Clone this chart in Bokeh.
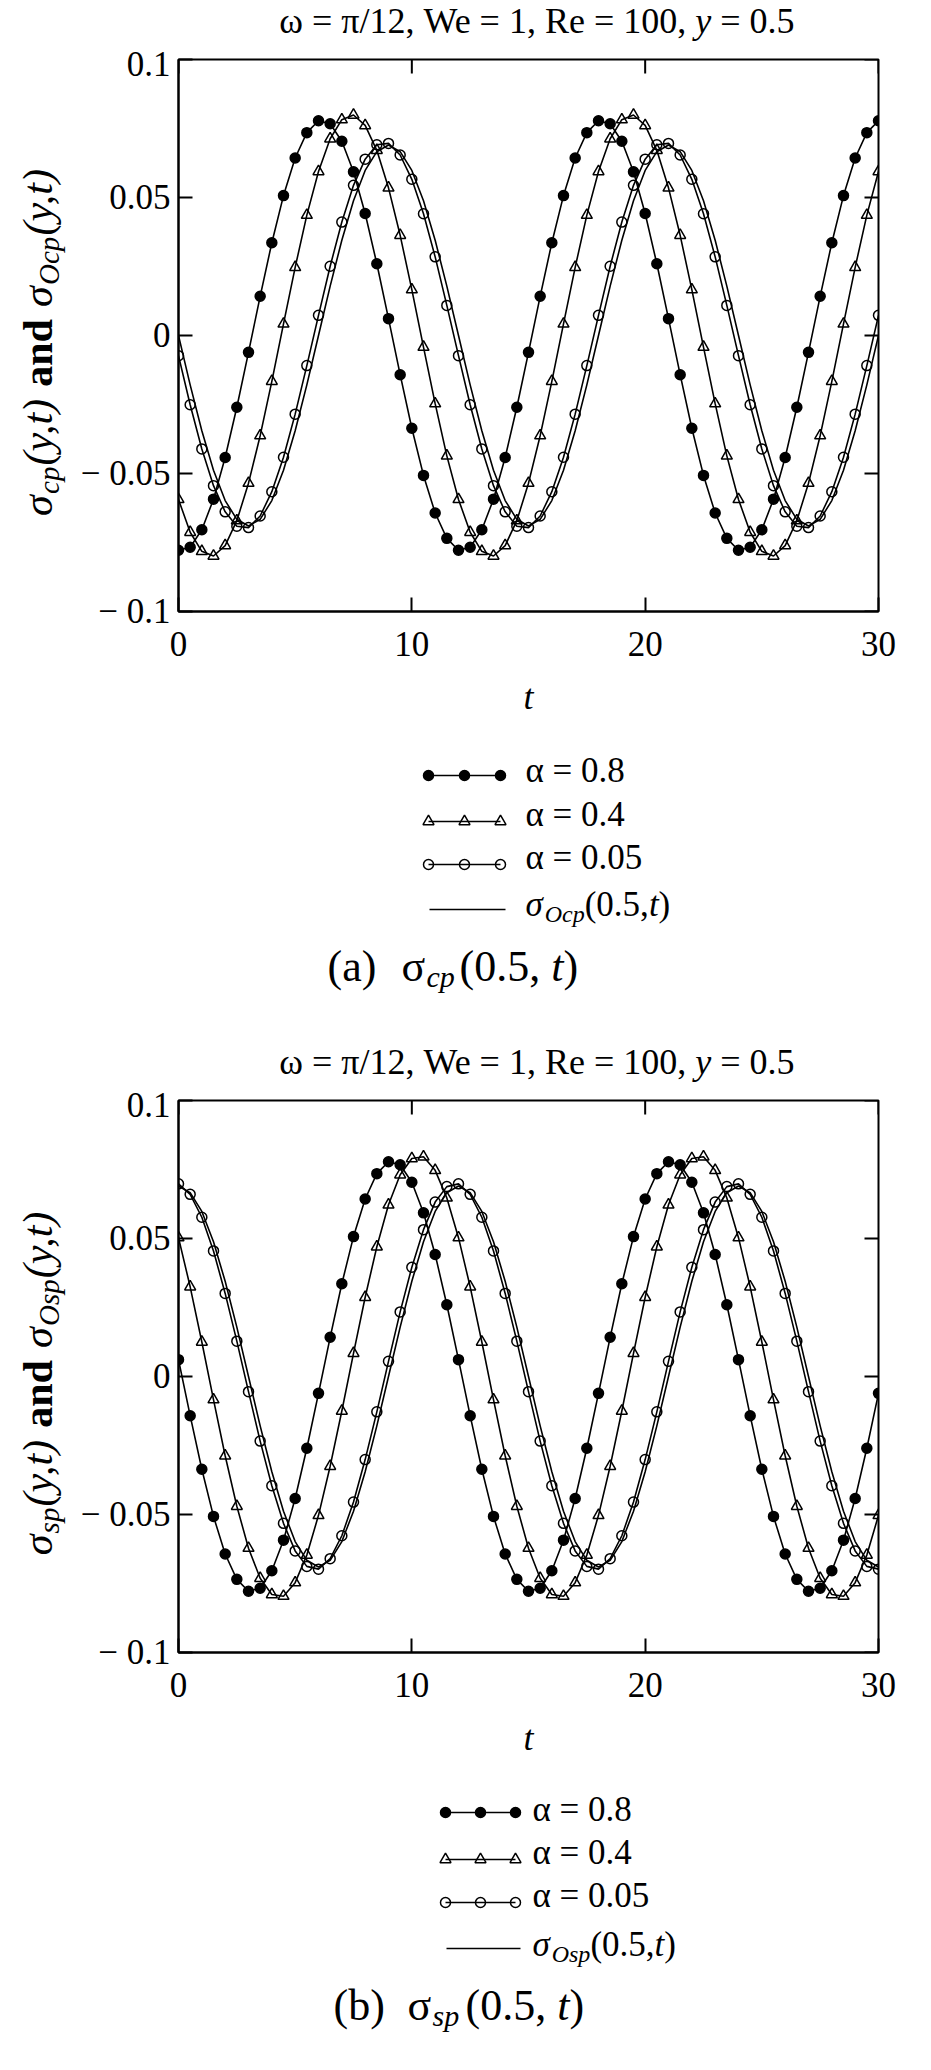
import math
from bokeh.plotting import figure
from bokeh.models import Range1d, FixedTicker, Label
from bokeh.layouts import column, row
from bokeh.embed import file_html
from bokeh.resources import INLINE

# ---------------- data ----------------
t = [0.0, 0.5, 1.0, 1.5, 2.0, 2.5, 3.0, 3.5, 4.0, 4.5, 5.0, 5.5,
     6.0, 6.5, 7.0, 7.5, 8.0, 8.5, 9.0, 9.5, 10.0, 10.5, 11.0, 11.5,
     12.0, 12.5, 13.0, 13.5, 14.0, 14.5, 15.0, 15.5, 16.0, 16.5, 17.0, 17.5,
     18.0, 18.5, 19.0, 19.5, 20.0, 20.5, 21.0, 21.5, 22.0, 22.5, 23.0, 23.5,
     24.0, 24.5, 25.0, 25.5, 26.0, 26.5, 27.0, 27.5, 28.0, 28.5, 29.0, 29.5, 30.0]

# panel (a): sigma_cp(0.5, t)
cp_alpha_08 = [
    -0.0778, -0.0767, -0.0704, -0.0593, -0.0442, -0.0260, -0.0061, 0.0142, 0.0336, 0.0507, 0.0643, 0.0735,
    0.0778, 0.0767, 0.0704, 0.0593, 0.0442, 0.0260, 0.0061, -0.0142, -0.0336, -0.0507, -0.0643, -0.0735,
    -0.0778, -0.0767, -0.0704, -0.0593, -0.0442, -0.0260, -0.0061, 0.0142, 0.0336, 0.0507, 0.0643, 0.0735,
    0.0778, 0.0767, 0.0704, 0.0593, 0.0442, 0.0260, 0.0061, -0.0142, -0.0336, -0.0507, -0.0643, -0.0735,
    -0.0778, -0.0767, -0.0704, -0.0593, -0.0442, -0.0260, -0.0061, 0.0142, 0.0336, 0.0507, 0.0643, 0.0735, 0.0778]
cp_alpha_04 = [
    -0.0594, -0.0713, -0.0782, -0.0799, -0.0761, -0.0671, -0.0535, -0.0363, -0.0166, 0.0042, 0.0247, 0.0436,
    0.0594, 0.0713, 0.0782, 0.0799, 0.0761, 0.0671, 0.0535, 0.0363, 0.0166, -0.0042, -0.0247, -0.0436,
    -0.0594, -0.0713, -0.0782, -0.0799, -0.0761, -0.0671, -0.0535, -0.0363, -0.0166, 0.0042, 0.0247, 0.0436,
    0.0594, 0.0713, 0.0782, 0.0799, 0.0761, 0.0671, 0.0535, 0.0363, 0.0166, -0.0042, -0.0247, -0.0436,
    -0.0594, -0.0713, -0.0782, -0.0799, -0.0761, -0.0671, -0.0535, -0.0363, -0.0166, 0.0042, 0.0247, 0.0436, 0.0594]
cp_alpha_005 = [
    -0.0073, -0.0251, -0.0411, -0.0544, -0.0639, -0.0691, -0.0696, -0.0654, -0.0566, -0.0441, -0.0285, -0.0109,
    0.0073, 0.0251, 0.0411, 0.0544, 0.0639, 0.0691, 0.0696, 0.0654, 0.0566, 0.0441, 0.0285, 0.0109,
    -0.0073, -0.0251, -0.0411, -0.0544, -0.0639, -0.0691, -0.0696, -0.0654, -0.0566, -0.0441, -0.0285, -0.0109,
    0.0073, 0.0251, 0.0411, 0.0544, 0.0639, 0.0691, 0.0696, 0.0654, 0.0566, 0.0441, 0.0285, 0.0109,
    -0.0073, -0.0251, -0.0411, -0.0544, -0.0639, -0.0691, -0.0696, -0.0654, -0.0566, -0.0441, -0.0285, -0.0109, 0.0073]
cp_O = [
    0.0, -0.0179, -0.0345, -0.0488, -0.0598, -0.0666, -0.0690, -0.0666, -0.0598, -0.0488, -0.0345, -0.0179,
    0.0, 0.0179, 0.0345, 0.0488, 0.0598, 0.0666, 0.0690, 0.0666, 0.0598, 0.0488, 0.0345, 0.0179,
    0.0, -0.0179, -0.0345, -0.0488, -0.0598, -0.0666, -0.0690, -0.0666, -0.0598, -0.0488, -0.0345, -0.0179,
    0.0, 0.0179, 0.0345, 0.0488, 0.0598, 0.0666, 0.0690, 0.0666, 0.0598, 0.0488, 0.0345, 0.0179,
    0.0, -0.0179, -0.0345, -0.0488, -0.0598, -0.0666, -0.0690, -0.0666, -0.0598, -0.0488, -0.0345, -0.0179, 0.0]

# panel (b): sigma_sp(0.5, t)
sp_alpha_08 = [
    0.0061, -0.0142, -0.0336, -0.0507, -0.0643, -0.0735, -0.0778, -0.0767, -0.0704, -0.0593, -0.0442, -0.0260,
    -0.0061, 0.0142, 0.0336, 0.0507, 0.0643, 0.0735, 0.0778, 0.0767, 0.0704, 0.0593, 0.0442, 0.0260,
    0.0061, -0.0142, -0.0336, -0.0507, -0.0643, -0.0735, -0.0778, -0.0767, -0.0704, -0.0593, -0.0442, -0.0260,
    -0.0061, 0.0142, 0.0336, 0.0507, 0.0643, 0.0735, 0.0778, 0.0767, 0.0704, 0.0593, 0.0442, 0.0260,
    0.0061, -0.0142, -0.0336, -0.0507, -0.0643, -0.0735, -0.0778, -0.0767, -0.0704, -0.0593, -0.0442, -0.0260, -0.0061]
sp_alpha_04 = [
    0.0503, 0.0325, 0.0125, -0.0084, -0.0287, -0.0470, -0.0622, -0.0731, -0.0790, -0.0796, -0.0747, -0.0647,
    -0.0503, -0.0325, -0.0125, 0.0084, 0.0287, 0.0470, 0.0622, 0.0731, 0.0790, 0.0796, 0.0747, 0.0647,
    0.0503, 0.0325, 0.0125, -0.0084, -0.0287, -0.0470, -0.0622, -0.0731, -0.0790, -0.0796, -0.0747, -0.0647,
    -0.0503, -0.0325, -0.0125, 0.0084, 0.0287, 0.0470, 0.0622, 0.0731, 0.0790, 0.0796, 0.0747, 0.0647,
    0.0503, 0.0325, 0.0125, -0.0084, -0.0287, -0.0470, -0.0622, -0.0731, -0.0790, -0.0796, -0.0747, -0.0647, -0.0503]
sp_alpha_005 = [
    0.0698, 0.0660, 0.0577, 0.0455, 0.0301, 0.0128, -0.0055, -0.0234, -0.0396, -0.0532, -0.0632, -0.0688,
    -0.0698, -0.0660, -0.0577, -0.0455, -0.0301, -0.0128, 0.0055, 0.0234, 0.0396, 0.0532, 0.0632, 0.0688,
    0.0698, 0.0660, 0.0577, 0.0455, 0.0301, 0.0128, -0.0055, -0.0234, -0.0396, -0.0532, -0.0632, -0.0688,
    -0.0698, -0.0660, -0.0577, -0.0455, -0.0301, -0.0128, 0.0055, 0.0234, 0.0396, 0.0532, 0.0632, 0.0688,
    0.0698, 0.0660, 0.0577, 0.0455, 0.0301, 0.0128, -0.0055, -0.0234, -0.0396, -0.0532, -0.0632, -0.0688, -0.0698]
sp_O = [
    0.0690, 0.0666, 0.0598, 0.0488, 0.0345, 0.0179, 0.0, -0.0179, -0.0345, -0.0488, -0.0598, -0.0666,
    -0.0690, -0.0666, -0.0598, -0.0488, -0.0345, -0.0179, 0.0, 0.0179, 0.0345, 0.0488, 0.0598, 0.0666,
    0.0690, 0.0666, 0.0598, 0.0488, 0.0345, 0.0179, 0.0, -0.0179, -0.0345, -0.0488, -0.0598, -0.0666,
    -0.0690, -0.0666, -0.0598, -0.0488, -0.0345, -0.0179, 0.0, 0.0179, 0.0345, 0.0488, 0.0598, 0.0666,
    0.0690, 0.0666, 0.0598, 0.0488, 0.0345, 0.0179, 0.0, -0.0179, -0.0345, -0.0488, -0.0598, -0.0666, -0.0690]

x_tick_values = [0, 10, 20, 30]
x_tick_labels = ["0", "10", "20", "30"]
y_tick_values = [-0.1, -0.05, 0, 0.05, 0.1]
y_tick_labels = ["\u2212 0.1", "\u2212 0.05", "0", "0.05", "0.1"]
legend_labels = ["\u03b1 = 0.8", "\u03b1 = 0.4", "\u03b1 = 0.05"]
title_main = "\u03c9 = \u03c0/12, We = 1, Re = 100,"
title_var = "y"
title_end = "= 0.5"

# ---------------- layout constants (page pixels) ----------------
SERIF = "'Liberation Serif', 'Times New Roman', serif"
PAGE_W = 915
YLAB_W = 70                 # width of the strip holding the rotated y label
FRAME_L, FRAME_R = 186, 886
FRAME_H = 552
TICK_IN = 14
BASE_FIX = 0.28             # raise label anchors so that glyph baselines land where wanted


def add_label(p, x, y, text, size, style="normal", align="left"):
    p.add_layout(Label(x=x, y=y - BASE_FIX * size, text=text, text_font=SERIF,
                       text_font_size=f"{size}px", text_font_style=style, text_color="black",
                       text_align=align, text_baseline="alphabetic"))


def add_vlabel(p, x_center, y_center, text, size, style="normal"):
    # rotated text, anchored at its own centre in both directions
    p.add_layout(Label(x=x_center, y=y_center, text=text, text_font=SERIF,
                       text_font_size=f"{size}px", text_font_style=style, text_color="black",
                       text_align="center", text_baseline="middle", angle=math.pi / 2))


def blank_canvas(width, height):
    q = figure(width=width, height=height, x_range=Range1d(0, width), y_range=Range1d(height, 0),
               output_backend="svg", toolbar_location=None, title_location=None,
               min_border=0, min_border_left=0, min_border_right=0, min_border_top=0,
               min_border_bottom=0, x_axis_type=None, y_axis_type=None)
    q.outline_line_color = None
    q.grid.visible = False
    q.background_fill_color = "white"
    q.border_fill_color = "white"
    return q


def style_axis(ax, ticks, labels, standoff):
    ax.ticker = FixedTicker(ticks=ticks, minor_ticks=[])
    ax.major_label_overrides = dict(zip(ticks, labels))
    ax.axis_line_color = "black"
    ax.axis_line_width = 2
    ax.major_tick_line_color = "black"
    ax.major_tick_line_width = 2
    ax.major_tick_in = TICK_IN
    ax.major_tick_out = 0
    ax.minor_tick_in = 0
    ax.minor_tick_out = 0
    ax.major_label_text_font = SERIF
    ax.major_label_text_color = "black"
    ax.major_label_standoff = standoff
    ax.major_label_text_font_size = "35px"


def make_main(height, top_b, curves):
    left_b = FRAME_L - (8 + YLAB_W)
    p = figure(width=PAGE_W - YLAB_W, height=height, x_range=Range1d(0, 30), y_range=Range1d(-0.1, 0.1),
               output_backend="svg", toolbar_location=None, title_location=None,
               min_border_left=left_b, min_border_right=PAGE_W - (FRAME_R - 8),
               min_border_top=top_b, min_border_bottom=height - top_b - FRAME_H)
    p.grid.visible = False
    p.outline_line_color = "black"
    p.outline_line_width = 2
    p.background_fill_color = "white"
    p.border_fill_color = "white"
    style_axis(p.xaxis[0], x_tick_values, x_tick_labels, 20)
    style_axis(p.yaxis[0], y_tick_values, y_tick_labels, 8)
    p.xaxis.axis_label = "t"
    p.xaxis.axis_label_text_font = SERIF
    p.xaxis.axis_label_text_font_style = "italic"
    p.xaxis.axis_label_text_font_size = "36px"
    p.xaxis.axis_label_text_color = "black"
    p.xaxis.axis_label_standoff = 18

    # inward ticks on the top and right edges, at the same tick values
    dy_tick = TICK_IN * 0.2 / FRAME_H
    dx_tick = TICK_IN * 30.0 / (FRAME_R - FRAME_L)
    p.segment(x0=x_tick_values, y0=[0.1] * len(x_tick_values), x1=x_tick_values,
              y1=[0.1 - dy_tick] * len(x_tick_values), line_color="black", line_width=2)
    p.segment(x0=[30] * len(y_tick_values), y0=y_tick_values, x1=[30 - dx_tick] * len(y_tick_values),
              y1=y_tick_values, line_color="black", line_width=2)

    for vals, marker, fill, size in curves:
        p.line(t, vals, line_color="black", line_width=1.6)
        if marker is not None:
            p.scatter(t, vals, marker=marker, size=size, fill_color=fill,
                      line_color="black", line_width=1.5)
    return p


def make_ylabel(height, fig_top, frame_top, sub1, sub1_w, sub2, sub2_w):
    # The strip sits in a row next to the main plot and its frame is aligned with the
    # main plot's frame, so give it the same borders and use page coordinates inside.
    top_b = frame_top - fig_top
    q = figure(width=YLAB_W, height=height, x_range=Range1d(8, 8 + YLAB_W),
               y_range=Range1d(frame_top + FRAME_H, frame_top),
               output_backend="svg", toolbar_location=None, title_location=None,
               min_border=0, min_border_left=0, min_border_right=0,
               min_border_top=top_b, min_border_bottom=height - top_b - FRAME_H,
               x_axis_type=None, y_axis_type=None)
    q.outline_line_color = None
    q.grid.visible = False
    q.background_fill_color = "white"
    q.border_fill_color = "white"

    main_cx = 45              # centre line of the main-size glyphs (page x)
    sub_cx = 56               # centre line of the subscripts (page x)
    pieces = [("\u03c3", 42, "italic", main_cx, 23.1), (sub1, 29, "italic", sub_cx, sub1_w),
              ("(y,t)", 42, "italic", main_cx, 68.8), (None, 0, "", 0, 11.0),
              ("and", 42, "bold", main_cx, 67.7), (None, 0, "", 0, 11.0),
              ("\u03c3", 42, "italic", main_cx, 23.1), (sub2, 29, "italic", sub_cx, sub2_w),
              ("(y,t)", 42, "italic", main_cx, 68.8)]
    total = sum(pc[4] for pc in pieces)
    ycur = frame_top + FRAME_H / 2.0 + 7 + total / 2.0
    for text, size, style, xc, w in pieces:
        if text is not None:
            add_vlabel(q, xc, ycur - w / 2.0, text, size, style=style)
        ycur -= w
    return q


def add_title(q, fig_top, baseline):
    by = baseline - fig_top
    end_x = 802 - 8
    s_end = end_x - 2.064 * 36
    add_label(q, s_end, by, title_end, 36)
    y_x = s_end - 9 - 0.444 * 36
    add_label(q, y_x, by, title_var, 36, style="italic")
    add_label(q, y_x - 9, by, title_main, 36, align="right")


def add_legend(q, fig_top, lx0, lx1, text_x, line_ys, base_ys, sub, sub_w,
               cap_letter, cap_sub, cap_xs, cap_base):
    def cx(X):
        return X - 8

    def cy(Y):
        return Y - fig_top

    styles = [("circle", "black", 10), ("triangle", None, 11), ("circle", None, 10)]
    xm = (lx0 + lx1) / 2.0
    for (marker, fill, size), ly, by, lab in zip(styles, line_ys, base_ys, legend_labels):
        q.line([cx(lx0), cx(lx1)], [cy(ly), cy(ly)], line_color="black", line_width=1.6)
        q.scatter([cx(lx0), cx(xm), cx(lx1)], [cy(ly)] * 3, marker=marker, size=size,
                  fill_color=fill, line_color="black", line_width=1.5)
        add_label(q, cx(text_x), cy(by), lab, 35)
    q.line([cx(lx0 + 1), cx(lx1 + 5)], [cy(line_ys[3]), cy(line_ys[3])], line_color="black", line_width=1.6)
    xcur = text_x
    add_label(q, cx(xcur), cy(base_ys[3]), "\u03c3", 35, style="italic")
    xcur += 19.2
    add_label(q, cx(xcur), cy(base_ys[3] + 6), sub, 24, style="italic")
    xcur += sub_w
    add_label(q, cx(xcur), cy(base_ys[3]), "(0.5,", 35)
    xcur += 64.2
    add_label(q, cx(xcur), cy(base_ys[3]), "t", 35, style="italic")
    xcur += 9.7
    add_label(q, cx(xcur), cy(base_ys[3]), ")", 35)

    x_a, x_s, x_sub, x_par = cap_xs
    add_label(q, cx(x_a), cy(cap_base), cap_letter, 44)
    add_label(q, cx(x_s), cy(cap_base), "\u03c3", 44)
    add_label(q, cx(x_sub), cy(cap_base + 6), cap_sub, 30, style="italic")
    add_label(q, cx(x_par), cy(cap_base), "(0.5,", 44)
    xt = x_par + 1.833 * 44 + 0.25 * 44
    add_label(q, cx(xt), cy(cap_base), "t", 44, style="italic")
    add_label(q, cx(xt + 0.278 * 44), cy(cap_base), ")", 44)


curves_a = [(cp_O, None, None, 0), (cp_alpha_005, "circle", None, 10),
            (cp_alpha_04, "triangle", None, 11), (cp_alpha_08, "circle", "black", 10)]
curves_b = [(sp_O, None, None, 0), (sp_alpha_005, "circle", None, 10),
            (sp_alpha_04, "triangle", None, 11), (sp_alpha_08, "circle", "black", 10)]

# page bands: title A 8-52 | panel A 52-745 | legend A + caption A + title B 745-1093 |
#             panel B 1093-1782 | legend B + caption B 1782-2060
title_a = blank_canvas(PAGE_W, 44)
add_title(title_a, 8, 39)

main_a = make_main(693, 67 - 52, curves_a)
ylab_a = make_ylabel(693, 52, 67, "cp", 27.4, "Ocp", 48.3)

mid = blank_canvas(PAGE_W, 348)
add_legend(mid, 745, 436, 508, 533, [783, 829, 872, 917], [788, 832, 875, 922],
           "Ocp", 40.0, "(a)", "cp", (335, 409, 434, 467), 986)
add_title(mid, 745, 1080)

main_b = make_main(689, 1108 - 1093, curves_b)
ylab_b = make_ylabel(689, 1093, 1108, "sp", 25.8, "Osp", 46.7)

bottom = blank_canvas(PAGE_W, 278)
add_legend(bottom, 1782, 453, 523, 540, [1820, 1867, 1910, 1956], [1827, 1870, 1913, 1962],
           "Osp", 38.7, "(b)", "sp", (341, 415, 440, 473), 2025)

layout = column(title_a, row(ylab_a, main_a, spacing=0), mid,
                row(ylab_b, main_b, spacing=0), bottom, spacing=0)
open("out.html", "w").write(file_html(layout, INLINE))
